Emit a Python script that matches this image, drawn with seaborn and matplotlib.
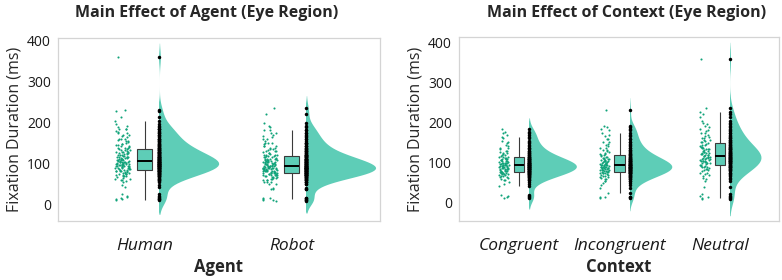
import numpy as np
import pandas as pd
import seaborn as sns
import matplotlib.pyplot as plt
from matplotlib.patches import Rectangle

# fixation durations (ms) per agent x context cell
human_congruent = [15, 20, 48, 58, 63, 67, 70, 72, 75, 77, 79, 81, 83, 84, 86, 88, 89, 91, 92, 94,
                   95, 96, 97, 98, 99, 100, 101, 103, 104, 106, 107, 109, 110, 112, 114, 116, 118, 121, 124, 127,
                   130, 134, 138, 143, 149, 155, 162, 170, 178, 186]
robot_congruent = [12, 17, 42, 52, 57, 61, 64, 66, 68, 70, 72, 73, 74, 76, 77, 78, 80, 81, 82, 84,
                   85, 86, 87, 88, 89, 90, 91, 92, 93, 95, 96, 98, 99, 101, 103, 105, 107, 109, 111, 113,
                   116, 119, 122, 126, 131, 137, 144, 152, 165, 175]
human_incongruent = [14, 26, 45, 55, 60, 64, 68, 71, 74, 76, 78, 80, 82, 83, 85, 87, 88, 90, 91, 93,
                     94, 95, 97, 98, 99, 101, 102, 104, 105, 107, 109, 111, 113, 115, 117, 120, 123, 126, 129, 133,
                     137, 142, 147, 153, 160, 168, 176, 185, 190, 232]
robot_incongruent = [12, 16, 38, 50, 56, 60, 63, 66, 68, 70, 72, 74, 75, 77, 78, 79, 81, 82, 83, 84,
                     86, 87, 88, 89, 90, 91, 92, 94, 95, 96, 98, 100, 102, 104, 106, 108, 110, 113, 116, 119,
                     123, 127, 132, 138, 145, 152, 160, 170, 182, 192]
human_neutral = [12, 18, 22, 60, 70, 76, 82, 86, 90, 93, 96, 99, 102, 104, 106, 108, 110, 112, 114, 116,
                 118, 120, 122, 124, 126, 128, 130, 132, 134, 136, 138, 140, 143, 146, 149, 152, 155, 158, 162, 166,
                 170, 175, 180, 186, 192, 198, 205, 215, 228, 360]
robot_neutral = [10, 15, 40, 55, 62, 68, 72, 76, 79, 82, 85, 87, 89, 91, 93, 95, 97, 99, 101, 103,
                 104, 106, 107, 109, 110, 112, 113, 115, 117, 119, 121, 123, 125, 128, 131, 134, 137, 140, 144, 148,
                 152, 157, 162, 168, 175, 182, 190, 200, 222, 237]

agents = ["Human", "Robot"]
contexts = ["Congruent", "Incongruent", "Neutral"]

cells = {
    ("Human", "Congruent"): human_congruent,
    ("Human", "Incongruent"): human_incongruent,
    ("Human", "Neutral"): human_neutral,
    ("Robot", "Congruent"): robot_congruent,
    ("Robot", "Incongruent"): robot_incongruent,
    ("Robot", "Neutral"): robot_neutral,
}
rows = [(a, c, v) for (a, c), vals in cells.items() for v in vals]
df = pd.DataFrame(rows, columns=["agent", "context", "duration"])

sns.set_style("white")
plt.rcParams["font.family"] = ["Open Sans", "DejaVu Sans"]

np.random.seed(7)  # only for the jitter

TEAL = "#5ecdb7"
GREEN = "#10a37a"


def raincloud(ax, col, order):
    d = df.copy()
    d["pos"] = d[col].map({k: i for i, k in enumerate(order)}).astype(float)

    # half violin (full violin clipped to its right side)
    n0 = len(ax.collections)
    sns.violinplot(x=d["pos"] + 0.1, y=d["duration"], native_scale=True, orient="x",
                   inner=None, density_norm="area", width=0.94, color=TEAL,
                   saturation=1, linewidth=0, ax=ax)
    for coll in ax.collections[n0:]:
        xs = coll.get_paths()[0].vertices[:, 0]
        mid = (xs.min() + xs.max()) / 2
        coll.set_clip_path(Rectangle((mid, -1000), 2, 3000, transform=ax.transData))

    # boxplot
    sns.boxplot(x=d["pos"], y=d["duration"], native_scale=True, orient="x", width=0.1,
                showfliers=False, showcaps=False, color=TEAL, saturation=1,
                linecolor="#3a3a3a", linewidth=0.8,
                medianprops=dict(color="black", linewidth=1.4), ax=ax)

    # jittered raw points
    sns.stripplot(x=d["pos"] - 0.15, y=d["duration"], native_scale=True, orient="x",
                  jitter=0.05, size=1.5, color=GREEN, linewidth=0, ax=ax)

    # aligned raw points
    sns.stripplot(x=d["pos"] + 0.1, y=d["duration"], native_scale=True, orient="x",
                  jitter=False, size=2.5, color="black", linewidth=0, ax=ax)

    ax.set_xticks(range(len(order)))
    ax.set_xticklabels(order, fontsize=12.5, style="italic", color="#1a1a1a")
    ax.set_yticks([0, 100, 200, 300, 400])
    ax.set_yticklabels(["0", "100", "200", "300", "400"], fontsize=10, color="#1a1a1a")
    ax.tick_params(axis="both", length=3, width=0.6, color="#888888", pad=2)
    ax.tick_params(axis="x", pad=9)
    ax.set_xlabel(col.capitalize(), fontsize=12, fontweight="bold", labelpad=3)
    ax.set_ylabel("Fixation Duration (ms)", fontsize=11.5, labelpad=3)
    for s in ax.spines.values():
        s.set_color("#d4d4d4")
        s.set_linewidth(0.9)


fig = plt.figure(figsize=(7.82, 2.8), dpi=100)
ax1 = fig.add_axes([58 / 782, 59 / 280, 322 / 782, 183 / 280])
ax2 = fig.add_axes([459 / 782, 59 / 280, 320 / 782, 184 / 280])

raincloud(ax1, "agent", agents)
ax1.set_xlim(-0.59, 1.6)
ax1.set_ylim(-39, 407)

raincloud(ax2, "context", contexts)
ax2.set_xlim(-0.6, 2.59)
ax2.set_ylim(-45, 415)

fig.text(207 / 782, 1 - 13 / 280, "Main Effect of Agent (Eye Region)", ha="center", va="center",
         fontsize=11.5, fontweight="bold")
fig.text(627 / 782, 1 - 13 / 280, "Main Effect of Context (Eye Region)", ha="center", va="center",
         fontsize=11.5, fontweight="bold")

fig.savefig("out.png", dpi=100)
